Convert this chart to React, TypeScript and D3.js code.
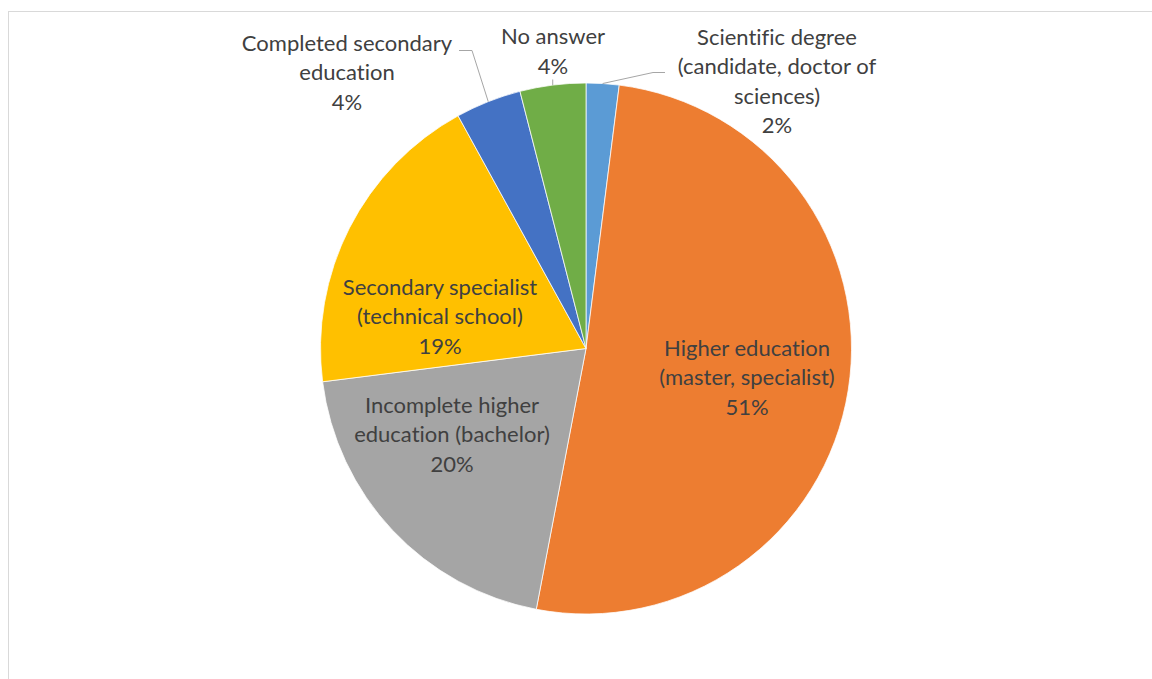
import React from "react";
import * as d3 from "d3";

const categories = [
  "Scientific degree (candidate, doctor of sciences)",
  "Higher education (master, specialist)",
  "Incomplete higher education (bachelor)",
  "Secondary specialist (technical school)",
  "Completed secondary education",
  "No answer",
];
const values = [2, 51, 20, 19, 4, 4];
const labelLines = [
  ["Scientific degree", "(candidate, doctor of", "sciences)"],
  ["Higher education", "(master, specialist)"],
  ["Incomplete higher", "education (bachelor)"],
  ["Secondary specialist", "(technical school)"],
  ["Completed secondary", "education"],
  ["No answer"],
];
const colors = ["#5B9BD5", "#ED7D31", "#A5A5A5", "#FFC000", "#4472C4", "#70AD47"];

// label block centres relative to the pie centre (layout only)
const labelOffsets = [
  { dx: 191, dy: -268 },
  { dx: 161, dy: 28 },
  { dx: -134, dy: 85 },
  { dx: -146, dy: -33 },
  { dx: -239, dy: -277 },
  { dx: -33, dy: -298 },
];
const outside = [true, false, false, false, true, true];

const W = 1152;
const H = 679;
const CX = 586;
const CY = 348.5;
const R = 265.5;
const LINE = 29.5;
const FONT = "Lato, 'Open Sans', sans-serif";
const FS = 22;

export default function App() {
  const pie = d3
    .pie<number>()
    .sort(null)
    .value((d) => d);
  const arcs = pie(values);
  const arcGen = d3.arc<d3.PieArcDatum<number>>().innerRadius(0).outerRadius(R);
  const edgeArc = d3.arc<d3.PieArcDatum<number>>().innerRadius(R).outerRadius(R);
  const fmt = d3.format(".0%");
  const total = d3.sum(values);

  const leaders = arcs.map((a, i) => {
    if (!outside[i]) return null;
    const [ex, ey] = edgeArc.centroid(a);
    const sx = CX + ex;
    const sy = CY + ey;
    const lx = CX + labelOffsets[i].dx;
    const ly = CY + labelOffsets[i].dy;
    if (i === 0) {
      return `M${sx},${sy}L${lx - 124},${ly - 8}L${lx - 112},${ly - 8}`;
    }
    if (i === 4) {
      return `M${sx},${sy}L${lx + 125},${ly - 21}L${lx + 112},${ly - 21}`;
    }
    return `M${sx},${sy}L${sx},${ly + 29}`;
  });

  return (
    <svg
      width={W}
      height={H}
      style={{ position: "absolute", left: 0, top: 0, display: "block", background: "#fff" }}
    >
      <rect x={8.5} y={11.5} width={W + 20} height={H + 20} fill="#fff" stroke="#d9d9d9" strokeWidth={1} />
      <g transform={`translate(${CX},${CY})`}>
        {arcs.map((a, i) => (
          <path key={categories[i]} d={arcGen(a) || ""} fill={colors[i]} stroke="#fff" strokeWidth={0.75} />
        ))}
      </g>
      {leaders.map((d, i) =>
        d ? <path key={"l" + i} d={d} fill="none" stroke="#a6a6a6" strokeWidth={1} /> : null
      )}
      {arcs.map((a, i) => {
        const lines = [...labelLines[i], fmt(values[i] / total)];
        const lx = CX + labelOffsets[i].dx;
        const ly = CY + labelOffsets[i].dy;
        const top = ly - ((lines.length - 1) * LINE) / 2;
        return (
          <text
            key={"t" + i}
            x={lx}
            textAnchor="middle"
            fontFamily={FONT}
            fontSize={FS}
            fill="#404040"
            style={{ fontVariantLigatures: "none" }}
          >
            {lines.map((ln, j) => (
              <tspan key={j} x={lx} y={top + j * LINE} dominantBaseline="central">
                {ln}
              </tspan>
            ))}
          </text>
        );
      })}
    </svg>
  );
}
